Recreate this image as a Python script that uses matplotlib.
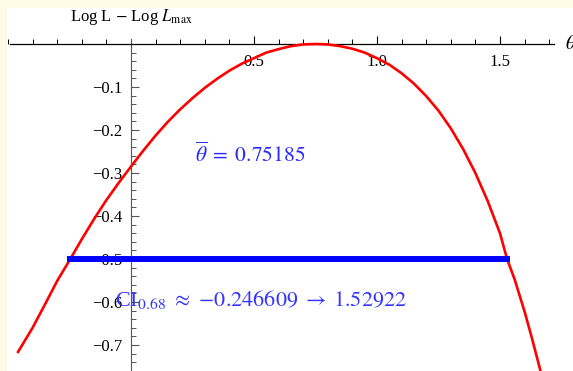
import numpy as np
import matplotlib.pyplot as plt
from matplotlib.ticker import MultipleLocator, FixedLocator

plt.rcParams['font.family'] = 'Liberation Serif'
plt.rcParams['mathtext.fontset'] = 'stix'

# log-likelihood curve (relative to its maximum)
theta = [-0.459, -0.40, -0.35, -0.30, -0.2466, -0.20, -0.15, -0.10, -0.05, 0.0,
         0.05, 0.10, 0.15, 0.20, 0.25, 0.30, 0.35, 0.40, 0.45, 0.50, 0.55,
         0.60, 0.65, 0.70, 0.752, 0.80, 0.85, 0.90, 0.95, 1.00, 1.05, 1.10,
         1.15, 1.20, 1.25, 1.30, 1.35, 1.40, 1.45, 1.50, 1.529, 1.56, 1.60,
         1.63, 1.667]
loglik = [-0.716, -0.660, -0.606, -0.551, -0.500, -0.454, -0.407, -0.363, -0.323, -0.285,
          -0.248, -0.213, -0.181, -0.152, -0.126, -0.102, -0.081, -0.062, -0.046, -0.033, -0.020,
          -0.012, -0.005, -0.001, 0.000, -0.001, -0.005, -0.011, -0.020, -0.033, -0.048, -0.068,
          -0.092, -0.121, -0.155, -0.196, -0.244, -0.300, -0.365, -0.440, -0.500, -0.548, -0.622,
          -0.684, -0.765]

theta_hat = 0.75185
ci_low = -0.246609
ci_high = 1.52922
ci_level = -0.5

x_ticks = [0.5, 1.0, 1.5]
x_labels = ['0.5', '1.0', '1.5']
y_ticks = [-0.1, -0.2, -0.3, -0.4, -0.5, -0.6, -0.7]
y_labels = ['\u22120.1', '\u22120.2', '\u22120.3', '\u22120.4', '\u22120.5', '\u22120.6', '\u22120.7']

fig = plt.figure(figsize=(5.73, 3.71), dpi=100, facecolor='#fffae6')
ax = fig.add_axes([7 / 573, 0, 566 / 573, 363 / 371])
ax.set_facecolor('white')
ax.set_xlim(-0.504, 1.797)
ax.set_ylim(-0.7605, 0.0837)

# axes through the origin
for side in ['top', 'right']:
    ax.spines[side].set_visible(False)
ax.spines['left'].set_position(('data', 0))
ax.spines['bottom'].set_position(('data', 0))
ax.spines['bottom'].set_bounds(-0.49, 1.72)
ax.spines['left'].set_bounds(-0.7605, 0.012)
ax.spines['left'].set_color('#555555')
ax.spines['bottom'].set_linewidth(0.9)

ax.set_xticks(x_ticks)
ax.set_xticklabels(x_labels)
ax.xaxis.set_minor_locator(MultipleLocator(0.1))
ax.set_yticks(y_ticks)
ax.set_yticklabels(y_labels)
ax.yaxis.set_minor_locator(FixedLocator(np.arange(-0.76, 0.001, 0.02)))
ax.tick_params(axis='x', which='major', direction='in', length=6, width=0.8, labelsize=12, pad=7)
ax.tick_params(axis='x', which='minor', direction='in', length=3.5, width=0.7)
ax.tick_params(axis='y', which='major', direction='in', length=6, width=0.8, labelsize=12, pad=6,
               color='#555555')
ax.tick_params(axis='y', which='minor', direction='in', length=3.5, width=0.7, color='#555555')

ax.plot(theta, loglik, color='#ff0000', lw=1.9, zorder=3)
ax.plot([ci_low, ci_high], [ci_level, ci_level], color='#0000ff', lw=4.3,
        solid_capstyle='projecting', zorder=4)

ax.text(0.262, -0.258, r'$\overline{\theta}\;=\;%s$' % theta_hat, color='#2a2aff',
        fontsize=15.5, ha='left', va='center', zorder=5)
ax.text(-0.065, -0.595, r'CI$_{0.68}$ $\approx$ $%s \;\rightarrow\; %s$' % (ci_low, ci_high),
        color='#3535ff', fontsize=16, ha='left', va='center', zorder=5)

ax.text(0, 0.063, r'Log L $-$ Log $L_{\mathrm{max}}$', fontsize=12, ha='center', va='center')
ax.text(1.764, 0, r'$\theta$', fontsize=14, ha='left', va='center', clip_on=False)

fig.savefig('out.png', dpi=100, facecolor=fig.get_facecolor())
